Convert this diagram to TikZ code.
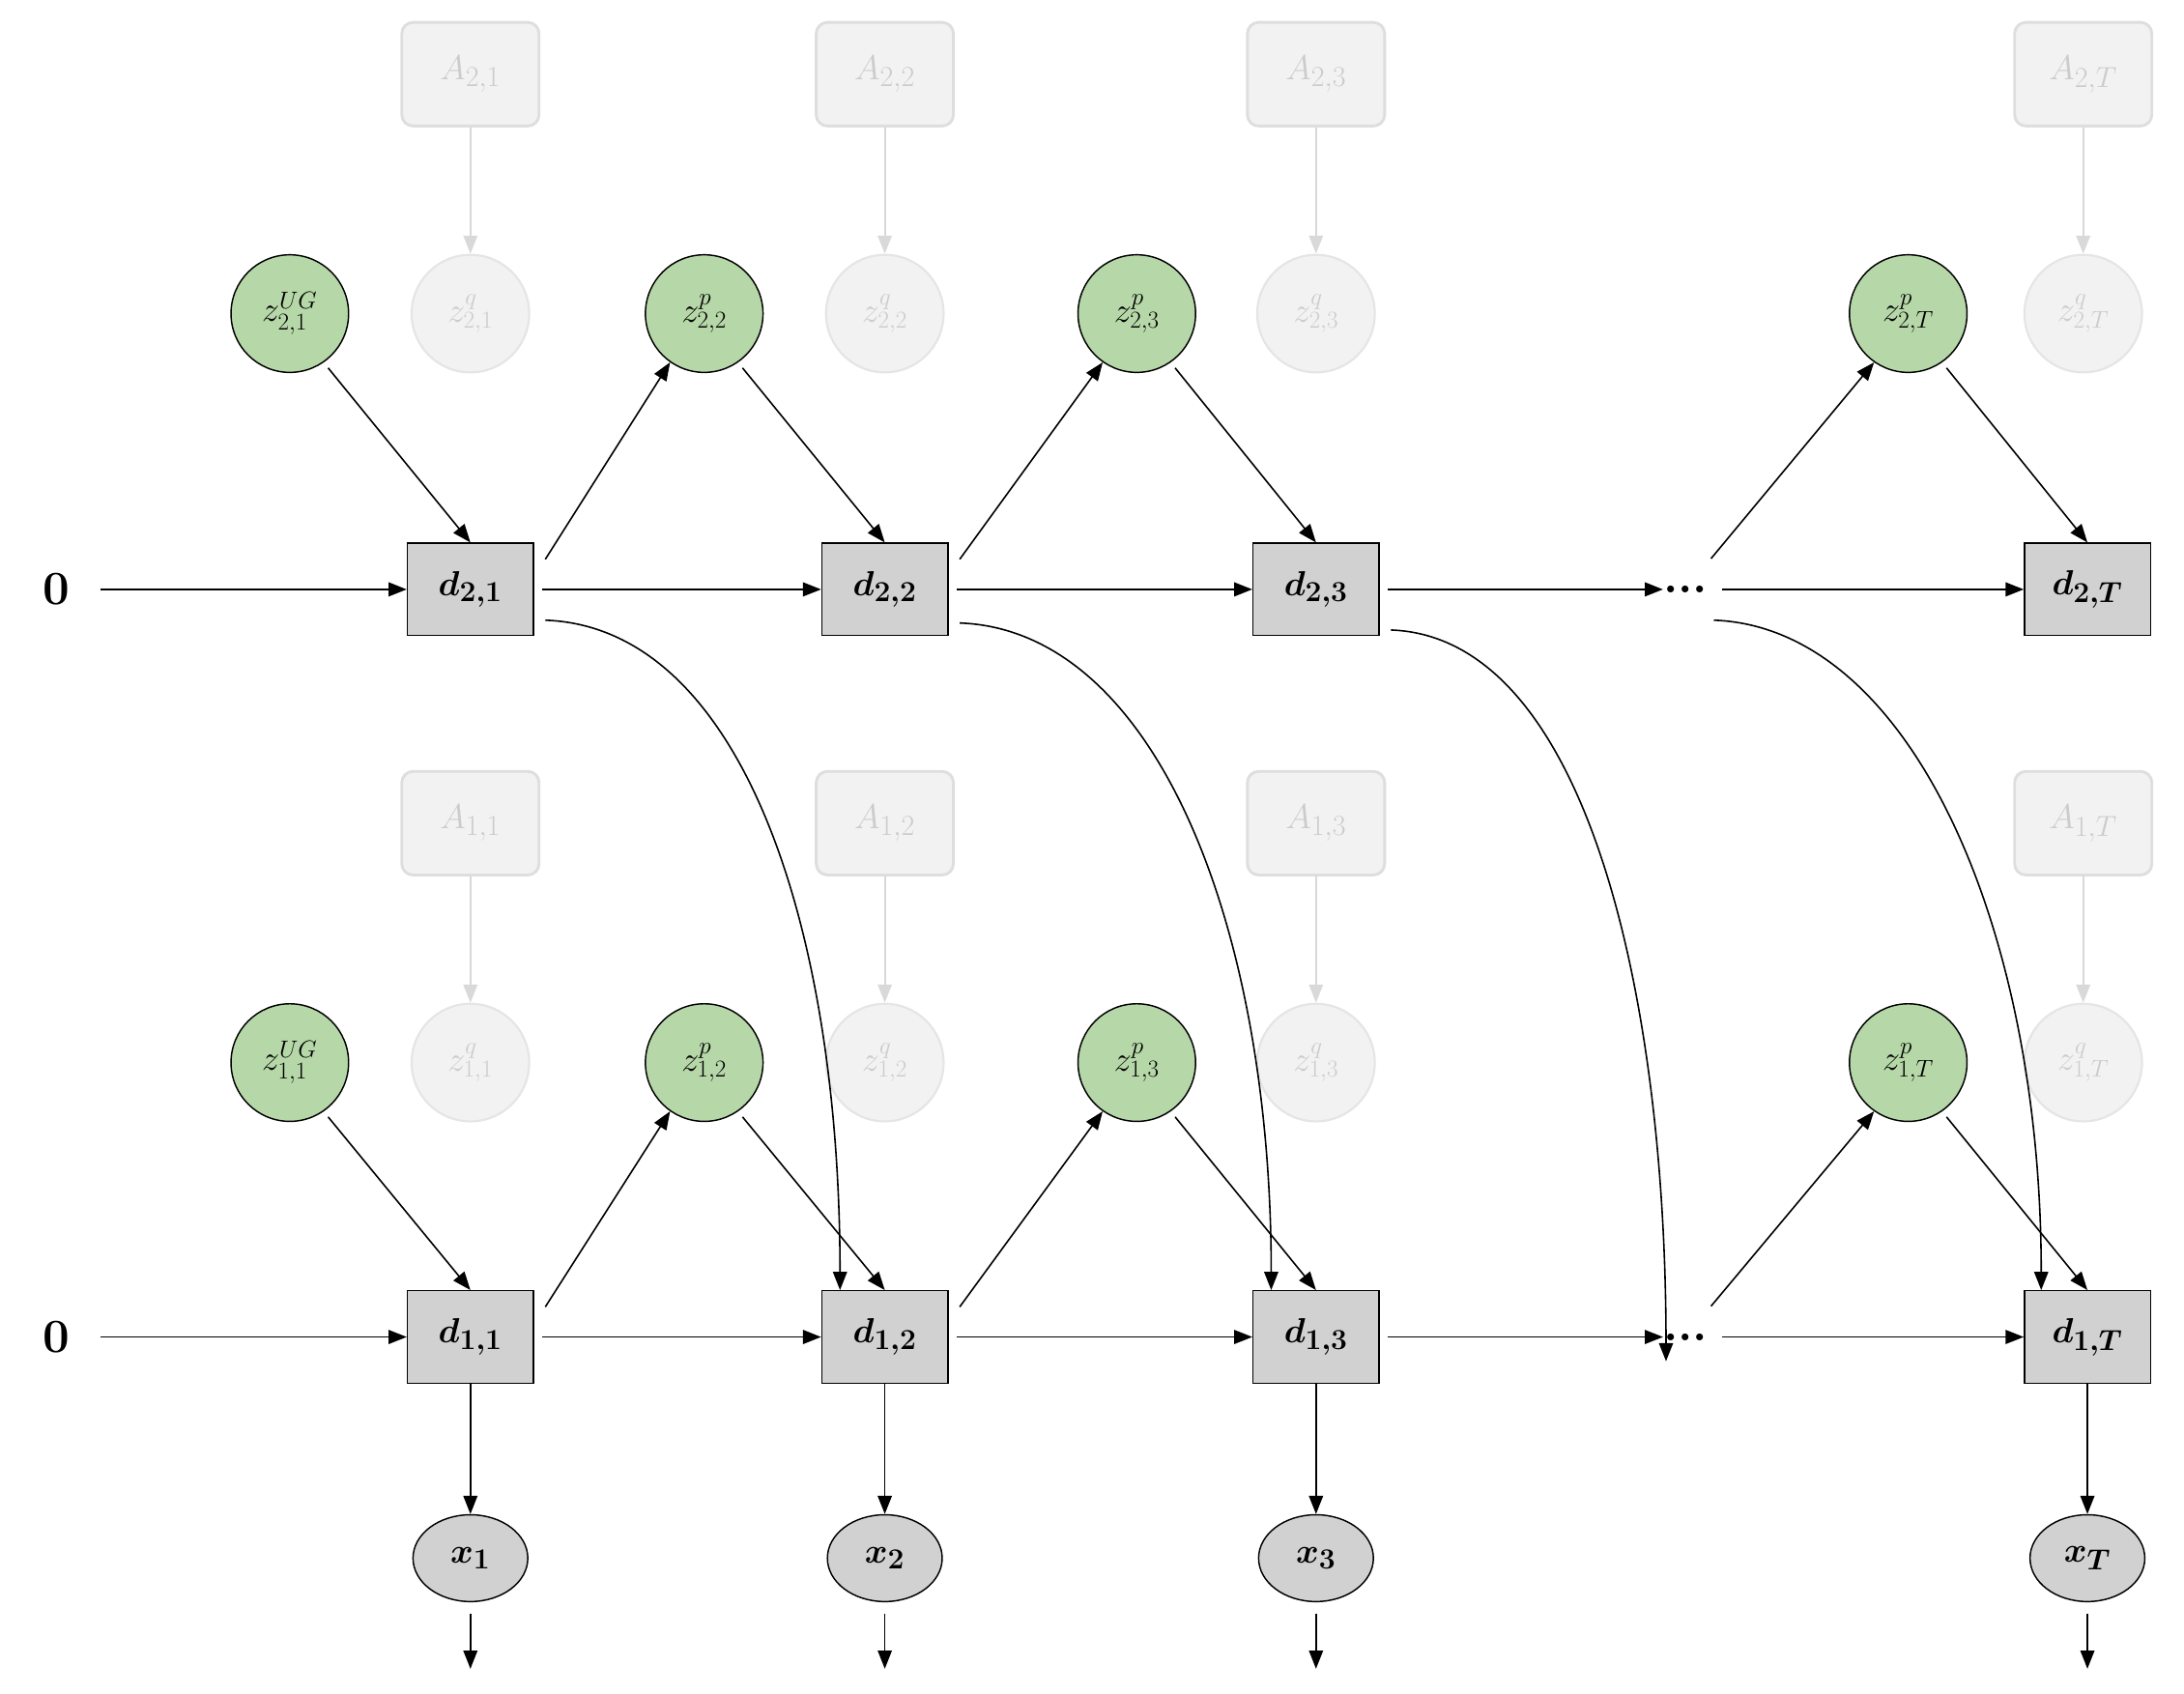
\documentclass[tikz,border=0pt]{standalone}
\usetikzlibrary{arrows.meta,shapes.geometric}
\begin{document}
\begin{tikzpicture}[x=1pt,y=-1pt,
 every node/.style={inner sep=0pt},
 arr/.style={line width=1.1pt,-{Triangle[length=13pt,width=10pt]}},
 farr/.style={line width=1.3pt,draw=black!15,-{Triangle[length=13pt,width=10pt]}},
 dbox/.style={draw,line width=1pt,fill=black!18,minimum width=90pt,minimum height=66pt,font=\fontsize{30}{34}\selectfont\boldmath},
 abox/.style={draw=black!13,line width=2pt,fill=black!5,rounded corners=8pt,minimum width=98pt,minimum height=74pt,text=black!20,font=\fontsize{30}{34}\selectfont},
 gz/.style={draw,line width=1pt,fill=green!45!black!30!white,fill=green!55!black!35!white,circle,minimum size=84pt,font=\fontsize{24}{28}\selectfont},
 qz/.style={draw=black!10,line width=1.5pt,fill=black!5,circle,minimum size=84pt,text=black!20,font=\fontsize{24}{28}\selectfont},
 xe/.style={draw,line width=1pt,fill=black!18,ellipse,minimum width=82pt,minimum height=62pt,font=\fontsize{28}{32}\selectfont\boldmath},
 lab/.style={font=\fontsize{34}{38}\selectfont\bfseries}]
\useasboundingbox (0,0) rectangle (1560,1210);
\definecolor{zg}{HTML}{B6D7A8}
\tikzset{gz/.append style={fill=zg}}
% upper layer
\foreach \n/\x/\s in {1/336/1,2/632/2,3/940/3,T/1488/T}{
 \node[abox] (A2\n) at (\x,53) {$A_{2,\s}$};
 \node[qz] (q2\n) at (\x,224) {$z^{q}_{2,\s}$};
 \draw[farr] (A2\n) -- (q2\n);
 \node[abox] (A1\n) at (\x,588) {$A_{1,\s}$};
 \node[qz] (q1\n) at (\x,759) {$z^{q}_{1,\s}$};
 \draw[farr] (A1\n) -- (q1\n);
}
\foreach \r/\y/\yz in {2/421/224,1/955/759}{
 \node[lab] (zero\r) at (40,\y) {0};
 \node[dbox] (d\r1) at (336,\y) {$d_{\r,1}$};
 \node[dbox] (d\r2) at (632,\y) {$d_{\r,2}$};
 \node[dbox] (d\r3) at (940,\y) {$d_{\r,3}$};
 \node[dbox] (d\r T) at (1491,\y) {$d_{\r,T}$};
 \node[lab] (dots\r) at (1204,\y) {...};
 \node[gz] (g\r1) at (207,\yz) {$z^{UG}_{\r,1}$};
 \node[gz] (g\r2) at (503,\yz) {$z^{p}_{\r,2}$};
 \node[gz] (g\r3) at (812,\yz) {$z^{p}_{\r,3}$};
 \node[gz] (g\r T) at (1363,\yz) {$z^{p}_{\r,T}$};
 \draw[arr] (zero\r.east)++(22,0) -- (d\r1);
 \draw[arr] (d\r1.east)++(6,0) -- (d\r2);
 \draw[arr] (d\r2.east)++(6,0) -- (d\r3);
 \draw[arr] (d\r3.east)++(6,0) -- (dots\r.west);
 \draw[arr] (dots\r.east)++(10,0) -- (d\r T);
 \draw[arr] (g\r1.-55)++(3,4) -- (d\r1.north);
 \draw[arr] (d\r1.north east)++(8,12) -- (g\r2.-125);
 \draw[arr] (g\r2.-55)++(3,4) -- (d\r2.north);
 \draw[arr] (d\r2.north east)++(8,12) -- (g\r3.-125);
 \draw[arr] (g\r3.-55)++(3,4) -- (d\r3.north);
 \draw[arr] (dots\r.east)++(2,-22) -- (g\r T.-125);
 \draw[arr] (g\r T.-55)++(3,4) -- (d\r T.north);
}
% curves
\draw[arr] (d21.east)++(8,22) .. controls +(140,5) and +(0,-260) .. ([xshift=-32pt]d12.north);
\draw[arr] (d22.east)++(8,24) .. controls +(140,5) and +(0,-260) .. ([xshift=-32pt]d13.north);
\draw[arr] (d23.east)++(8,29) .. controls +(140,5) and +(0,-260) .. ([shift={(-14pt,-20pt)}]dots1.north);
\draw[arr] (dots2.east)++(4,22) .. controls +(140,5) and +(0,-260) .. ([xshift=-33pt]d1T.north);
% outputs
\foreach \n/\x/\s in {1/336/1,2/632/2,3/940/3,T/1491/T}{
 \node[xe] (x\n) at (\x,1113) {$x_{\s}$};
 \draw[arr] (d1\n) -- (x\n);
 \coordinate (o\n) at (\x,1192);
 \draw[arr] (x\n.south)++(0,8) -- (o\n);
}
\end{tikzpicture}
\end{document}
